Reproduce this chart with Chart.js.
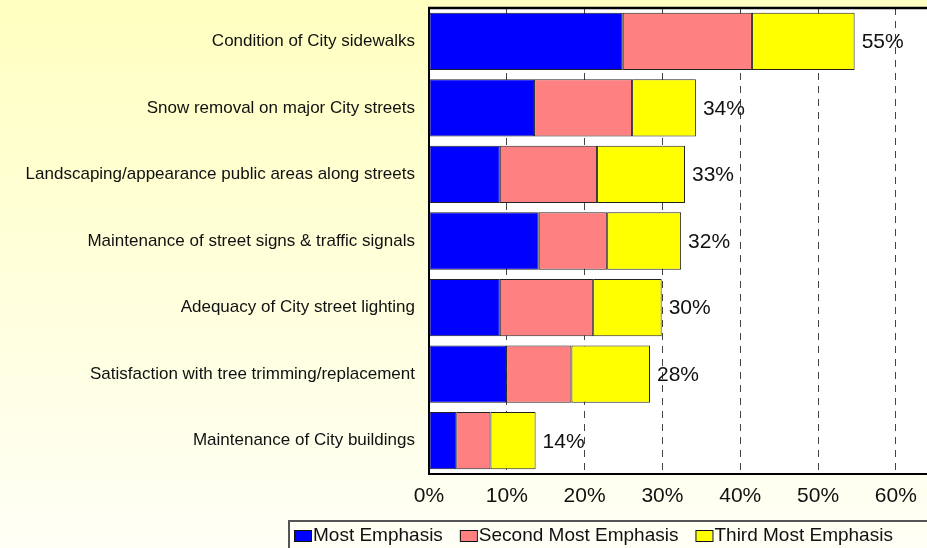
<!DOCTYPE html>
<html lang="en">
<head>
    <meta charset="UTF-8">
    <title>Areas of Emphasis - City Streets & Sidewalks</title>
    <script src="https://cdn.jsdelivr.net/npm/chart.js"></script>
    <style>
        body {
            margin: 0;
            background: linear-gradient(#FFFFC0, #FFFFF6);
            font-family: "Liberation Sans", Arial, sans-serif;
        }
        .chart-container {
            width: 927px;
            height: 548px;
            position: relative;
        }
    </style>
</head>
<body>

<div class="chart-container">
    <canvas id="emphasisChart"></canvas>
</div>

<script>
    // categories (top to bottom)
    const categories = [
        'Condition of City sidewalks',
        'Snow removal on major City streets',
        'Landscaping/appearance public areas along streets',
        'Maintenance of street signs & traffic signals',
        'Adequacy of City street lighting',
        'Satisfaction with tree trimming/replacement',
        'Maintenance of City buildings'
    ];
    const seriesNames = ['Most Emphasis', 'Second Most Emphasis', 'Third Most Emphasis'];
    const mostEmphasis = [24.9, 13.5, 9.1, 14.1, 9.1, 9.9, 3.5];
    const secondEmphasis = [16.6, 12.6, 12.5, 8.8, 12.0, 8.4, 4.4];
    const thirdEmphasis = [13.2, 8.2, 11.3, 9.5, 8.8, 10.1, 5.8];
    const xTicks = [0, 10, 20, 30, 40, 50, 60];

    const FONT = '"Liberation Sans", Arial, sans-serif';

    // white plot area + top border line
    const plotArea = {
        id: 'plotArea',
        beforeDraw(chart) {
            const {ctx, chartArea: a} = chart;
            ctx.save();
            ctx.fillStyle = '#ffffff';
            ctx.fillRect(a.left, a.top, a.right - a.left, a.bottom - a.top);
            ctx.restore();
        },
        afterDraw(chart) {
            const {ctx, chartArea: a} = chart;
            ctx.save();
            ctx.strokeStyle = '#000';
            ctx.lineWidth = 2.5;
            ctx.beginPath();
            ctx.moveTo(a.left - 1, a.top);
            ctx.lineTo(a.right, a.top);
            ctx.stroke();
            ctx.restore();
        }
    };

    // total % at the end of each stacked bar
    const totalLabels = {
        id: 'totalLabels',
        afterDatasetsDraw(chart) {
            const {ctx, scales: {x, y}} = chart;
            ctx.save();
            ctx.font = '21px ' + FONT;
            ctx.fillStyle = '#111';
            ctx.textAlign = 'left';
            ctx.textBaseline = 'middle';
            categories.forEach((c, i) => {
                let total = 0;
                chart.data.datasets.forEach(ds => total += ds.data[i]);
                ctx.fillText(Math.round(total) + '%', x.getPixelForValue(total) + 7, y.getPixelForValue(i) + 1);
            });
            ctx.restore();
        }
    };

    // framed legend at the bottom
    const boxLegend = {
        id: 'boxLegend',
        afterDraw(chart) {
            const {ctx} = chart;
            ctx.save();
            ctx.strokeStyle = '#555';
            ctx.lineWidth = 2;
            ctx.strokeRect(289, 521, 700, 60);
            ctx.font = '19px ' + FONT;
            ctx.textBaseline = 'middle';
            let xPos = 294;
            chart.data.datasets.forEach(ds => {
                ctx.fillStyle = ds.backgroundColor;
                ctx.fillRect(xPos, 530, 17, 11);
                ctx.strokeStyle = '#111';
                ctx.lineWidth = 1;
                ctx.strokeRect(xPos + 0.5, 530.5, 17, 11);
                ctx.fillStyle = '#111';
                ctx.fillText(ds.label, xPos + 19, 536);
                xPos += 19 + ctx.measureText(ds.label).width + 17;
            });
            ctx.restore();
        }
    };

    const makeSet = (label, data, color) => ({
        label: label,
        data: data,
        backgroundColor: color,
        borderColor: '#222',
        borderWidth: 1,
        borderSkipped: false,
        barPercentage: 0.86,
        categoryPercentage: 1
    });

    new Chart(document.getElementById('emphasisChart'), {
        type: 'bar',
        data: {
            labels: categories,
            datasets: [
                makeSet(seriesNames[0], mostEmphasis, '#0000FF'),
                makeSet(seriesNames[1], secondEmphasis, '#FF8080'),
                makeSet(seriesNames[2], thirdEmphasis, '#FFFF00')
            ]
        },
        options: {
            indexAxis: 'y',
            responsive: true,
            maintainAspectRatio: false,
            animation: false,
            layout: { padding: { top: 8, right: 0, left: 0, bottom: 0 } },
            plugins: {
                legend: { display: false },
                tooltip: { enabled: false }
            },
            scales: {
                x: {
                    stacked: true,
                    min: 0,
                    max: 64,
                    afterBuildTicks: scale => {
                        scale.ticks = xTicks.map(v => ({value: v}));
                    },
                    afterFit: scale => {
                        scale.height = 74;
                        scale.paddingLeft = 0;
                        scale.paddingRight = 0;
                    },
                    grid: { color: '#444', lineWidth: 1, drawTicks: false },
                    border: { color: '#000', width: 2, dash: [7, 6] },
                    ticks: {
                        padding: 10,
                        color: '#111',
                        font: { family: FONT, size: 21 },
                        maxRotation: 0,
                        callback: v => v + '%'
                    }
                },
                y: {
                    stacked: true,
                    afterFit: scale => {
                        scale.width = 429;
                        scale.paddingTop = 0;
                        scale.paddingBottom = 0;
                    },
                    grid: { display: false, drawTicks: false },
                    border: { color: '#000', width: 2 },
                    ticks: {
                        padding: 14,
                        color: '#111',
                        font: { family: FONT, size: 17 }
                    }
                }
            }
        },
        plugins: [plotArea, totalLabels, boxLegend]
    });
</script>

</body>
</html>
